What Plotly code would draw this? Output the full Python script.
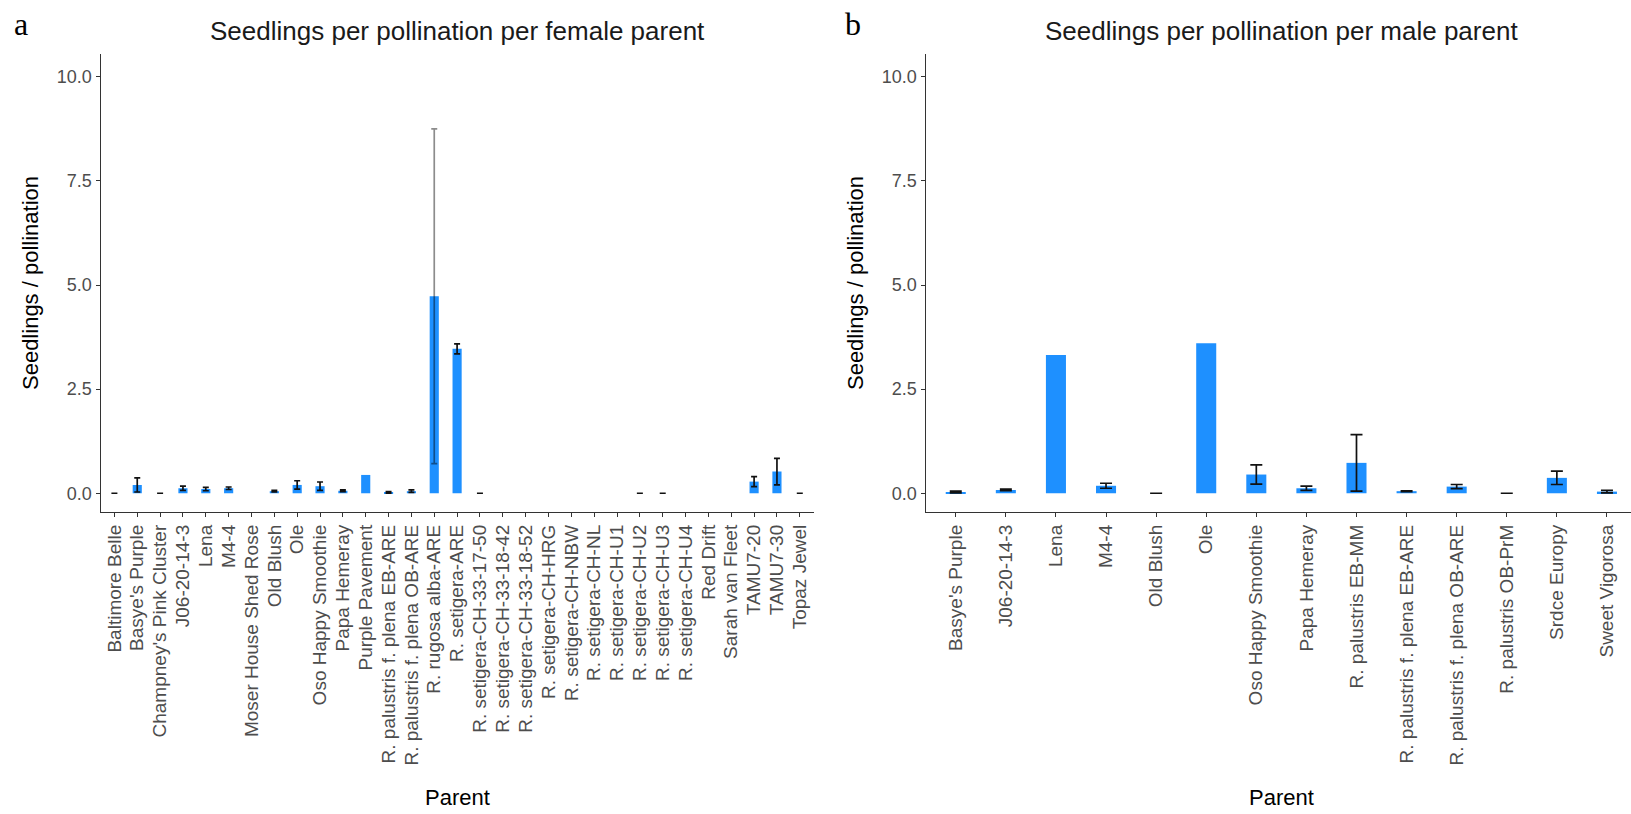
import plotly.graph_objects as go

# ---------------- data ----------------
female_parents = [
    "Baltimore Belle", "Basye's Purple", "Champney's Pink Cluster", "J06-20-14-3",
    "Lena", "M4-4", "Moser House Shed Rose", "Old Blush", "Ole", "Oso Happy Smoothie",
    "Papa Hemeray", "Purple Pavement", "R. palustris f. plena EB-ARE",
    "R. palustris f. plena OB-ARE", "R. rugosa alba-ARE", "R. setigera-ARE",
    "R. setigera-CH-33-17-50", "R. setigera-CH-33-18-42", "R. setigera-CH-33-18-52",
    "R. setigera-CH-HRG", "R. setigera-CH-NBW", "R. setigera-CH-NL", "R. setigera-CH-U1",
    "R. setigera-CH-U2", "R. setigera-CH-U3", "R. setigera-CH-U4", "Red Drift",
    "Sarah van Fleet", "TAMU7-20", "TAMU7-30", "Topaz Jewel",
]
female_mean = [0.0, 0.2, 0.0, 0.12, 0.1, 0.12, None, 0.05, 0.2, 0.17,
               0.06, 0.44, 0.02, 0.05, 4.73, 3.47,
               0.0, None, None, None, None, None, None,
               0.0, 0.0, None, None, None, 0.28, 0.52, 0.0]
female_err = [0.0, 0.17, 0.0, 0.05, 0.04, 0.03, None, 0.02, 0.1, 0.1,
              0.02, None, 0.02, 0.03, 4.02, 0.12,
              0.0, None, None, None, None, None, None,
              0.0, 0.0, None, None, None, 0.12, 0.32, 0.0]

male_parents = [
    "Basye's Purple", "J06-20-14-3", "Lena", "M4-4", "Old Blush", "Ole",
    "Oso Happy Smoothie", "Papa Hemeray", "R. palustris EB-MM",
    "R. palustris f. plena EB-ARE", "R. palustris f. plena OB-ARE",
    "R. palustris OB-PrM", "Srdce Europy", "Sweet Vigorosa",
]
male_mean = [0.03, 0.08, 3.32, 0.18, 0.0, 3.6, 0.45, 0.12, 0.73, 0.05, 0.16, 0.0, 0.37, 0.04]
male_err = [0.02, 0.02, None, 0.06, 0.0, None, 0.23, 0.05, 0.68, 0.01, 0.05, 0.0, 0.16, 0.03]

y_ticks = [0.0, 2.5, 5.0, 7.5, 10.0]
y_tick_text = ["0.0", "2.5", "5.0", "7.5", "10.0"]

titles = ["Seedlings per pollination per female parent", "Seedlings per pollination per male parent"]
panel_letters = ["a", "b"]
x_title = "Parent"

# ---------------- figure ----------------
W, H = 1631, 814
BAR = "#1E90FF"
FONT = "Liberation Sans, Arial, sans-serif"

fig = go.Figure()


def add_panel(cats, mean, err, xa, ya, cap):
    fig.add_trace(go.Bar(x=cats, y=mean, marker=dict(color=BAR, line=dict(width=0)),
                         width=0.4, xaxis=xa, yaxis=ya, showlegend=False))
    # error bars: split large ones (drawn lighter) and the rest
    for big, col in [(False, "#111111"), (True, "rgba(0,0,0,0.45)")]:
        xs, ys, es = [], [], []
        for c, m, e in zip(cats, mean, err):
            if m is None or e is None:
                continue
            if (e > 2) != big:
                continue
            xs.append(c); ys.append(m); es.append(e)
        if xs:
            fig.add_trace(go.Scatter(
                x=xs, y=ys, mode="markers", marker=dict(size=1, opacity=0),
                error_y=dict(type="data", array=es, visible=True, color=col,
                             thickness=1.7, width=cap),
                xaxis=xa, yaxis=ya, showlegend=False, hoverinfo="skip"))


add_panel(female_parents, female_mean, female_err, "x", "y", 3)
add_panel(male_parents, male_mean, male_err, "x2", "y2", 6)

axis_common = dict(showline=True, linecolor="#333333", linewidth=1.4,
                   ticks="outside", ticklen=4, tickcolor="#333333", tickwidth=1.2,
                   showgrid=False, zeroline=False, mirror=False)

y_top = 1 - 54 / H
y_bot = 1 - 512 / H
XT, YT, AT = 19, 18, 22

fig.update_layout(
    width=W, height=H,
    margin=dict(l=0, r=0, t=0, b=0),
    paper_bgcolor="white", plot_bgcolor="white",
    font=dict(family=FONT, color="#000000"),
    xaxis=dict(domain=[100.7 / W, 813.5 / W], type="category",
               categoryorder="array", categoryarray=female_parents,
               tickmode="array", tickvals=female_parents, ticktext=female_parents,
               range=[-0.6, len(female_parents) - 0.4], tickangle=-90,
               tickfont=dict(size=XT, color="#4D4D4D"), anchor="y",
               **axis_common),
    yaxis=dict(domain=[y_bot, y_top], range=[-0.45, 10.55],
               tickvals=y_ticks, ticktext=y_tick_text,
               tickfont=dict(size=YT, color="#4D4D4D"),
               title=dict(text="Seedlings / pollination", font=dict(size=AT), standoff=12),
               anchor="x", **axis_common),
    xaxis2=dict(domain=[925.7 / W, 1.0], type="category",
                categoryorder="array", categoryarray=male_parents,
                tickmode="array", tickvals=male_parents, ticktext=male_parents,
                range=[-0.6, 13.48], tickangle=-90,
                tickfont=dict(size=XT, color="#4D4D4D"), anchor="y2",
                **axis_common),
    yaxis2=dict(domain=[y_bot, y_top], range=[-0.45, 10.55],
                tickvals=y_ticks, ticktext=y_tick_text,
                tickfont=dict(size=YT, color="#4D4D4D"),
                title=dict(text="Seedlings / pollination", font=dict(size=AT), standoff=12),
                anchor="x2", **axis_common),
)

panel_centers = [457 / W, 1281 / W]
# titles
for t, cx in zip(titles, panel_centers):
    fig.add_annotation(text=t, x=cx, y=1 - 31 / H, xref="paper", yref="paper",
                       showarrow=False, xanchor="center", yanchor="middle",
                       font=dict(size=26, family=FONT, color="#1a1a1a"))
# x-axis titles
for cx in panel_centers:
    fig.add_annotation(text=x_title, x=cx, y=1 - 797 / H, xref="paper", yref="paper",
                       showarrow=False, xanchor="center", yanchor="middle",
                       font=dict(size=AT, family=FONT, color="#000000"))
# panel letters
for t, lx in zip(panel_letters, [12 / W, 843 / W]):
    fig.add_annotation(text=t, x=lx, y=1 - 4 / H, xref="paper", yref="paper",
                       showarrow=False, xanchor="left", yanchor="top",
                       font=dict(size=32, family="Liberation Serif, Times New Roman, serif",
                                 color="#000000"))

fig.write_html("out.html")
